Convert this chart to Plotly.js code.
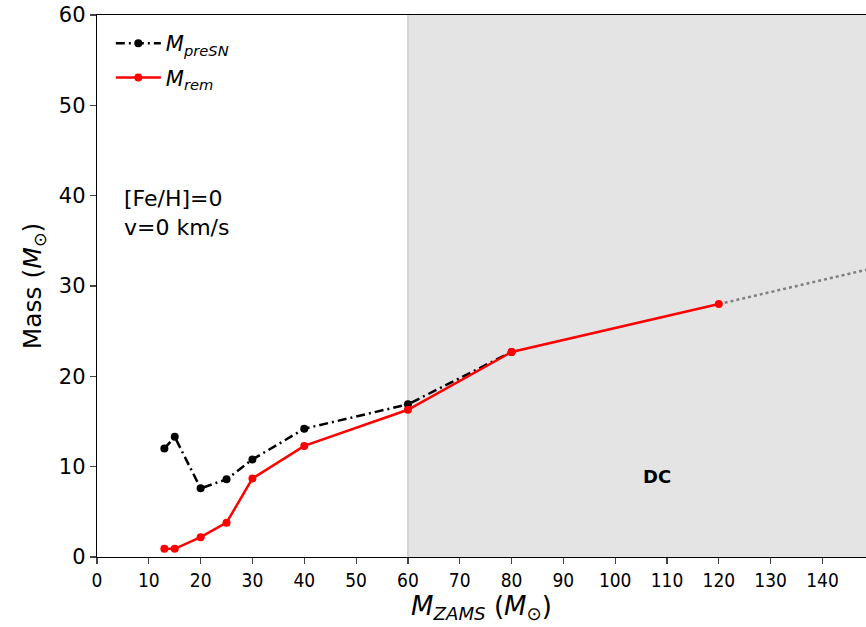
<!DOCTYPE html>
<html>
<head>
<meta charset="utf-8">
<script src="https://cdn.plot.ly/plotly-3.0.1.min.js"></script>
<style>html,body{margin:0;padding:0;background:#fff;}#chart{width:866px;height:627px;}</style>
</head>
<body>
<div id="chart"></div>
<script>
const mZams = [13, 15, 20, 25, 30, 40, 60, 80];
const mPreSN = [12.0, 13.3, 7.6, 8.6, 10.8, 14.2, 16.9, 22.7];
const mZamsRem = [13, 15, 20, 25, 30, 40, 60, 80, 120];
const mRem = [0.9, 0.9, 2.2, 3.8, 8.7, 12.3, 16.3, 22.7, 28.0];
const extX = [120, 150];
const extY = [28.0, 32.0];
const dcStart = 60;
const dcEnd = 150;
const xTicks = [0,10,20,30,40,50,60,70,80,90,100,110,120,130,140];
const yTicks = [0,10,20,30,40,50,60];

const traces = [
  {x: extX, y: extY, mode: 'lines', line: {color: 'gray', width: 2.5, dash: 'dot'}, showlegend: false, hoverinfo: 'skip'},
  {x: mZams, y: mPreSN, mode: 'lines+markers', name: '<i>M</i><sub><i>preSN</i></sub>', legendgroup: 'a',
   line: {color: 'black', width: 2.5, dash: '9px,4px,2px,4px'}, marker: {color: 'black', size: 8}},
  {x: mZamsRem, y: mRem, mode: 'lines+markers', name: '<i>M</i><sub><i>rem</i></sub>', legendgroup: 'b',
   line: {color: 'red', width: 2.5}, marker: {color: 'red', size: 8}}
];

const layout = {
  width: 866, height: 627,
  margin: {l: 97, r: 0, t: 15, b: 70},
  paper_bgcolor: 'white', plot_bgcolor: 'white',
  font: {family: 'DejaVu Sans', color: 'black'},
  showlegend: true,
  legend: {x: 0.018, y: 0.985, xanchor: 'left', yanchor: 'top', bgcolor: 'rgba(255,255,255,0)',
           font: {size: 21, family: 'DejaVu Sans'}, tracegroupgap: 4, itemwidth: 45},
  xaxis: {range: [0, 148.4], tickvals: xTicks, ticktext: xTicks.map(String),
    ticks: 'outside', ticklen: 6, tickwidth: 1.2, showgrid: false, zeroline: false,
    showline: true, linecolor: 'black', linewidth: 1.2, mirror: true,
    tickfont: {size: 19, family: 'DejaVu Sans Condensed'},
    title: {text: '<i>M</i><sub><i>ZAMS</i></sub> (<i>M</i><sub>\u2299</sub>)', font: {size: 26}, standoff: 6}},
  yaxis: {range: [0, 60], tickvals: yTicks, ticks: 'outside', ticklen: 6, tickwidth: 1.2,
    showgrid: false, zeroline: false, showline: true, linecolor: 'black', linewidth: 1.2, mirror: true,
    tickfont: {size: 21},
    title: {text: 'Mass (<i>M</i><sub>\u2299</sub>)', font: {size: 25}, standoff: 10}},
  shapes: [
    {type: 'rect', xref: 'x', yref: 'paper', x0: dcStart, x1: dcEnd, y0: 0, y1: 1,
     fillcolor: '#e4e4e4', line: {width: 0}, layer: 'below'},
    {type: 'line', xref: 'x', yref: 'paper', x0: dcStart, x1: dcStart, y0: 0, y1: 1,
     line: {color: '#cccccc', width: 1.5}, layer: 'below'}
  ],
  annotations: [
    {x: 108, y: 8.9, xref: 'x', yref: 'y', text: '<b>DC</b>', showarrow: false, font: {size: 18}},
    {x: 0.033, y: 0.635, xref: 'paper', yref: 'paper', xanchor: 'left', yanchor: 'middle', align: 'left',
     text: '[Fe/H]=0<br>v=0 km/s', showarrow: false, font: {size: 22}}
  ]
};

Plotly.newPlot('chart', traces, layout, {displayModeBar: false, staticPlot: true});
</script>
</body>
</html>
